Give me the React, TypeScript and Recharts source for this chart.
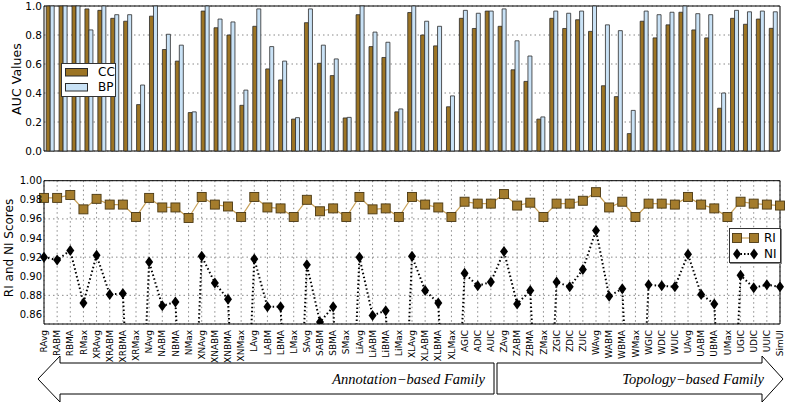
import {
  Bar,
  BarChart,
  CartesianGrid,
  ComposedChart,
  Legend,
  Line,
  ReferenceArea,
  XAxis,
  YAxis,
} from "recharts";

const categories = [
  "RAvg", "RABM", "RBMA", "RMax",
  "XRAvg", "XRABM", "XRBMA", "XRMax",
  "NAvg", "NABM", "NBMA", "NMax",
  "XNAvg", "XNABM", "XNBMA", "XNMax",
  "LAvg", "LABM", "LBMA", "LMax",
  "SAvg", "SABM", "SBMA", "SMax",
  "LiAvg", "LiABM", "LiBMA", "LiMax",
  "XLAvg", "XLABM", "XLBMA", "XLMax",
  "AGIC", "ADIC", "AUIC",
  "ZAvg", "ZABM", "ZBMA", "ZMax", "ZGIC", "ZDIC", "ZUIC",
  "WAvg", "WABM", "WBMA", "WMax", "WGIC", "WDIC", "WUIC",
  "UAvg", "UABM", "UBMA", "UMax", "UGIC", "UDIC", "UUIC",
  "SimUI",
];

const ccValues = [
  1.0, 1.0, 1.0, 0.98,
  0.97, 0.915, 0.895, 0.32,
  0.93, 0.7, 0.62, 0.265,
  0.965, 0.85, 0.8, 0.315,
  0.86, 0.566, 0.49, 0.22,
  0.885, 0.605, 0.52, 0.228,
  0.94, 0.72, 0.645, 0.27,
  0.955, 0.8, 0.725, 0.305,
  0.915, 0.845, 0.965,
  0.86, 0.56, 0.48, 0.22, 0.915, 0.845, 0.905,
  0.825, 0.45, 0.375, 0.12, 0.895, 0.78, 0.87,
  0.957, 0.835, 0.78, 0.295, 0.915, 0.874, 0.91,
  0.846,
];

const bpValues = [
  1.0, 1.0, 1.0, 0.835,
  1.0, 0.94, 0.94, 0.455,
  1.0, 0.805, 0.73, 0.27,
  1.0, 0.91, 0.89, 0.42,
  0.98, 0.72, 0.62, 0.23,
  0.98, 0.73, 0.635, 0.232,
  1.0, 0.82, 0.75, 0.29,
  1.0, 0.895, 0.86, 0.38,
  0.97, 0.95, 0.965,
  0.98, 0.76, 0.655, 0.235, 0.965, 0.95, 0.965,
  1.0, 0.87, 0.83, 0.28, 0.965, 0.94, 0.957,
  1.0, 0.947, 0.94, 0.4, 0.97, 0.96, 0.965,
  0.96,
];

const riValues = [
  0.982, 0.982, 0.985, 0.97,
  0.981, 0.975, 0.975, 0.962,
  0.982, 0.972, 0.972, 0.961,
  0.983, 0.975, 0.973, 0.962,
  0.983, 0.972, 0.971, 0.962,
  0.98, 0.968, 0.971, 0.962,
  0.983, 0.97, 0.971, 0.962,
  0.983, 0.975, 0.972, 0.962,
  0.978, 0.976, 0.976,
  0.986, 0.974, 0.977, 0.962, 0.976, 0.976, 0.979,
  0.988, 0.972, 0.978, 0.962, 0.976, 0.976, 0.975,
  0.983, 0.975, 0.971, 0.962, 0.978, 0.976, 0.975,
  0.974,
];

// the *Max NI values fall far below the visible range
const niValues = [
  0.92, 0.917, 0.927, 0.872,
  0.922, 0.881, 0.882, 0.6,
  0.915, 0.869, 0.873, 0.6,
  0.921, 0.893, 0.876, 0.6,
  0.918, 0.868, 0.868, 0.6,
  0.912, 0.852, 0.868, 0.6,
  0.92, 0.859, 0.864, 0.6,
  0.921, 0.885, 0.872, 0.6,
  0.903, 0.89, 0.894,
  0.926, 0.871, 0.885, 0.6, 0.894, 0.889, 0.907,
  0.948, 0.879, 0.887, 0.6, 0.891, 0.89, 0.889,
  0.923, 0.881, 0.871, 0.6, 0.901, 0.888, 0.891,
  0.889,
];

const aucTicks = [0, 0.2, 0.4, 0.6, 0.8, 1.0];
const scoreTicks = [0.86, 0.88, 0.9, 0.92, 0.94, 0.96, 0.98, 1.0];

const barData = categories.map((name, i) => ({ name, cc: ccValues[i], bp: bpValues[i] }));
const scoreData = categories.map((name, i) => ({ name, ri: riValues[i], ni: niValues[i] }));

const CC_FILL = "#9c7424";
const BP_FILL = "#c9e2f6";
const EDGE = "#2b2b2b";
const RI_FILL = "#a47c2c";
const RI_EDGE = "#4a3812";
const RI_LINE = "#c9a25a";
const SANS = "DejaVu Sans, sans-serif";

function SquareDot(props: any) {
  const { cx, cy } = props;
  if (cx == null || cy == null) return null;
  return (
    <rect x={cx - 4.5} y={cy - 4.5} width={9} height={9} fill={RI_FILL} stroke={RI_EDGE} strokeWidth={0.9} />
  );
}

function DiamondDot(props: any) {
  const { cx, cy } = props;
  if (cx == null || cy == null) return null;
  return (
    <polygon points={`${cx},${cy - 5.5} ${cx + 4},${cy} ${cx},${cy + 5.5} ${cx - 4},${cy}`} fill="#000" />
  );
}

function RotatedTick(props: any) {
  const { x, y, payload } = props;
  return (
    <text
      transform={`translate(${x},${y}) rotate(-90)`}
      textAnchor="end"
      dy="0.35em"
      fontSize={9}
      fontFamily={SANS}
      fill="#000"
    >
      {payload.value}
    </text>
  );
}

function BarLegend() {
  const row = { display: "flex", alignItems: "center", height: 15 };
  const swatch = (fill: string) => (
    <svg width={24} height={9} style={{ marginRight: 9 }}>
      <rect x={0.5} y={0.5} width={22} height={7.5} fill={fill} stroke={EDGE} strokeWidth={1} />
    </svg>
  );
  return (
    <div
      style={{
        width: 50,
        height: 31,
        border: "1px solid #333",
        background: "#fff",
        padding: "1px 0 0 3px",
        boxSizing: "content-box",
        fontFamily: SANS,
        fontSize: 12,
        lineHeight: "15px",
      }}
    >
      <div style={row}>{swatch(CC_FILL)}CC</div>
      <div style={row}>{swatch(BP_FILL)}BP</div>
    </div>
  );
}

function ScoreLegend() {
  const row = { display: "flex", alignItems: "center", height: 16 };
  return (
    <div
      style={{
        width: 49,
        height: 32,
        border: "1px solid #333",
        boxShadow: "1px 1px 0 #888",
        background: "#fff",
        padding: "1px 0 0 1px",
        boxSizing: "content-box",
        fontFamily: SANS,
        fontSize: 12,
        lineHeight: "16px",
      }}
    >
      <div style={row}>
        <svg width={30} height={14} style={{ marginRight: 3 }}>
          <line x1={6} y1={7} x2={23} y2={7} stroke={RI_LINE} strokeWidth={1.2} />
          <SquareDot cx={6} cy={7} />
          <SquareDot cx={23} cy={7} />
        </svg>
        RI
      </div>
      <div style={row}>
        <svg width={30} height={14} style={{ marginRight: 3 }}>
          <line x1={6} y1={7} x2={23} y2={7} stroke="#000" strokeWidth={2} strokeDasharray="1.5 2" />
          <DiamondDot cx={6} cy={7} />
          <DiamondDot cx={23} cy={7} />
        </svg>
        NI
      </div>
    </div>
  );
}

function FamilyArrows() {
  return (
    <svg
      width={787}
      height={405}
      style={{ position: "absolute", left: 0, top: 0, pointerEvents: "none" }}
    >
      <polygon
        points="38,379 60,356 60,363 494,363 494,394 60,394 60,402"
        fill="#fff"
        stroke="#000"
        strokeWidth={1}
      />
      <polygon
        points="497,363 762,363 762,356 783,379 762,402 762,394 497,394"
        fill="#fff"
        stroke="#000"
        strokeWidth={1}
      />
      <text x={485} y={384} textAnchor="end" fontFamily="Liberation Serif, serif" fontStyle="italic" fontSize={14.5}>
        Annotation−based Family
      </text>
      <text x={764} y={384} textAnchor="end" fontFamily="Liberation Serif, serif" fontStyle="italic" fontSize={14.5}>
        Topology−based Family
      </text>
    </svg>
  );
}

export default function App() {
  return (
    <div style={{ position: "absolute", left: 0, top: 0, width: 787, height: 405, background: "#fff" }}>
      <div style={{ position: "absolute", left: 0, top: 0 }}>
        <BarChart
          width={787}
          height={160}
          data={barData}
          margin={{ top: 6, right: 7, bottom: 9, left: 0 }}
          barCategoryGap="17%"
          barGap={0}
        >
          <CartesianGrid horizontal vertical={false} stroke="#888" strokeDasharray="1.5 3" />
          <XAxis dataKey="name" hide />
          <YAxis
            width={44}
            domain={[0, 1]}
            ticks={aucTicks}
            tickFormatter={(v: number) => v.toFixed(1)}
            tickSize={0}
            tickMargin={2}
            axisLine={false}
            tick={{ fontSize: 10.5, fontFamily: SANS, fill: "#000" }}
            label={{
              value: "AUC Values",
              content: () => (
                <text
                  x={16}
                  y={79}
                  transform="rotate(-90,16,79)"
                  textAnchor="middle"
                  dominantBaseline="central"
                  fontSize={12.6}
                  fontFamily={SANS}
                  fill="#000"
                >
                  AUC Values
                </text>
              ),
            }}
          />
          <Bar dataKey="cc" name="CC" fill={CC_FILL} stroke={EDGE} strokeWidth={0.8} isAnimationActive={false} />
          <Bar dataKey="bp" name="BP" fill={BP_FILL} stroke={EDGE} strokeWidth={0.8} isAnimationActive={false} />
          <ReferenceArea y1={0} y2={1} fill="none" stroke="#000" strokeWidth={1} ifOverflow="visible" />
          <Legend
            layout="vertical"
            align="center"
            verticalAlign="middle"
            content={() => <BarLegend />}
            wrapperStyle={{ left: 61, top: 63, width: "auto", height: "auto" }}
          />
        </BarChart>
      </div>
      <div style={{ position: "absolute", left: 0, top: 160 }}>
        <ComposedChart
          width={787}
          height={209}
          data={scoreData}
          margin={{ top: 20.7, right: 7, bottom: 0, left: 0 }}
        >
          <CartesianGrid stroke="#888" strokeDasharray="1.5 3" />
          <XAxis
            dataKey="name"
            interval={0}
            height={45}
            tickSize={0}
            tickMargin={6}
            axisLine={false}
            tick={<RotatedTick />}
          />
          <YAxis
            width={44}
            domain={[0.85, 1.0]}
            allowDataOverflow
            ticks={scoreTicks}
            tickFormatter={(v: number) => v.toFixed(2)}
            tickSize={0}
            tickMargin={2}
            axisLine={false}
            tick={{ fontSize: 10, fontFamily: SANS, fill: "#000" }}
            label={{
              value: "RI and NI Scores",
              content: () => (
                <text
                  x={9}
                  y={88}
                  transform="rotate(-90,9,88)"
                  textAnchor="middle"
                  dominantBaseline="central"
                  fontSize={12}
                  fontFamily={SANS}
                  fill="#000"
                >
                  RI and NI Scores
                </text>
              ),
            }}
          />
          <Line
            dataKey="ri"
            name="RI"
            stroke={RI_LINE}
            strokeWidth={1.2}
            dot={<SquareDot />}
            activeDot={false}
            isAnimationActive={false}
          />
          <Line
            dataKey="ni"
            name="NI"
            stroke="#000"
            strokeWidth={2}
            strokeDasharray="1.5 2.5"
            dot={<DiamondDot />}
            activeDot={false}
            isAnimationActive={false}
          />
          <ReferenceArea y1={0.85} y2={1.0} fill="none" stroke="#000" strokeWidth={1} ifOverflow="visible" />
          <Legend
            layout="vertical"
            align="center"
            verticalAlign="middle"
            content={() => <ScoreLegend />}
            wrapperStyle={{ left: 729, top: 68, width: "auto", height: "auto" }}
          />
        </ComposedChart>
      </div>
      <FamilyArrows />
    </div>
  );
}
